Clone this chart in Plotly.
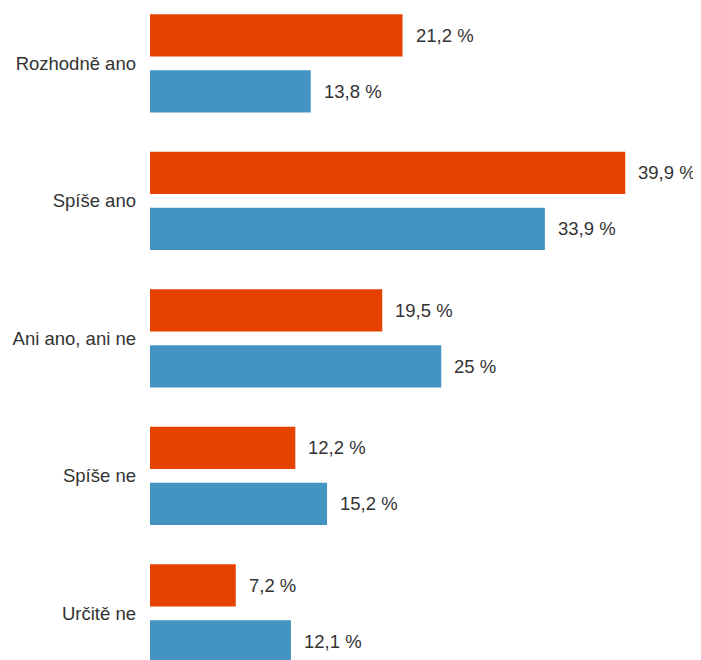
import plotly.graph_objects as go

categories = ["Rozhodně ano", "Spíše ano", "Ani ano, ani ne", "Spíše ne", "Určitě ne"]
orange_values = [21.2, 39.9, 19.5, 12.2, 7.2]
blue_values = [13.8, 33.9, 25.0, 15.2, 12.1]
orange_labels = ["21,2 %", "39,9 %", "19,5 %", "12,2 %", "7,2 %"]
blue_labels = ["13,8 %", "33,9 %", "25 %", "15,2 %", "12,1 %"]

ORANGE = "#E54100"
BLUE = "#4494C2"
FONT = "Arial, Liberation Sans, Helvetica, sans-serif"
TEXTC = "#333333"

pos = list(range(len(categories)))
W = 0.307
OFF_O = -0.357
OFF_B = 0.05

fig = go.Figure()
fig.add_trace(go.Bar(
    x=orange_values, y=pos, orientation="h", xaxis="x", yaxis="y",
    marker=dict(color=ORANGE, line=dict(width=0)), width=W, offset=OFF_O,
    hoverinfo="skip", showlegend=False))
fig.add_trace(go.Bar(
    x=blue_values, y=pos, orientation="h", xaxis="x2", yaxis="y",
    marker=dict(color=BLUE, line=dict(width=0)), width=W, offset=OFF_B,
    hoverinfo="skip", showlegend=False))

annotations = []
for i in pos:
    annotations.append(dict(x=orange_values[i], xref="x", y=i + OFF_O + W / 2, yref="y",
                            text=orange_labels[i], showarrow=False, xanchor="left",
                            yanchor="middle", xshift=11,
                            font=dict(family=FONT, size=18.5, color=TEXTC)))
    annotations.append(dict(x=blue_values[i], xref="x2", y=i + OFF_B + W / 2, yref="y",
                            text=blue_labels[i], showarrow=False, xanchor="left",
                            yanchor="middle", xshift=11,
                            font=dict(family=FONT, size=18.5, color=TEXTC)))

# page body has an 8px default margin, so the figure is sized/shifted to compensate
fig.update_layout(
    width=693, height=652,
    margin=dict(l=142, r=0, t=0, b=0, pad=0),
    paper_bgcolor="white", plot_bgcolor="white",
    barmode="overlay",
    font=dict(family=FONT, size=18.5, color=TEXTC),
    xaxis=dict(range=[0, 46.26], visible=False, fixedrange=True),
    xaxis2=dict(range=[0, 47.30], visible=False, overlaying="x", fixedrange=True),
    yaxis=dict(range=[4.339, -0.403], tickmode="array", tickvals=pos, ticktext=categories,
               showgrid=False, zeroline=False, showline=False, ticks="",
               ticklabelstandoff=13, fixedrange=True, automargin=False,
               tickfont=dict(family=FONT, size=18.5, color=TEXTC)),
    annotations=annotations,
)

fig.write_html("out.html")
